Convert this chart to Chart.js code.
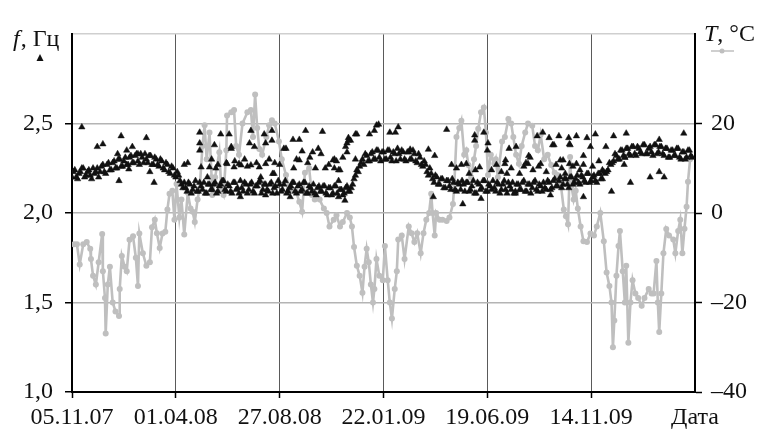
<!DOCTYPE html>
<html>
<head>
<meta charset="utf-8">
<script src="https://cdn.jsdelivr.net/npm/chart.js@4.4.1/dist/chart.umd.min.js"></script>
<style>
  html, body { margin: 0; padding: 0; background: #fff; }
  canvas { display: block; }
</style>
</head>
<body>
<canvas id="chart" width="762" height="444"></canvas>
<script>
const FONT = '"Liberation Serif", "Times New Roman", serif';

// x axis is in days counted from 05.11.07; labelled dates are 148 days apart
const X_TICK_STEP = 148;
const X_TICK_LABELS = ['05.11.07', '01.04.08', '27.08.08', '22.01.09', '19.06.09', '14.11.09', 'Дата'];

// temperature T, °C (right axis)
const tempDays = [
    3, 7, 11, 16, 21, 26, 27, 30, 34, 38,
    43, 44, 47, 48, 51, 54, 58, 62, 67, 68,
    71, 75, 78, 82, 87, 91, 94, 96, 101, 106,
    111, 114, 118, 121, 125, 129, 133, 136, 139, 143,
    146, 149, 153, 156, 160, 165, 169, 172, 175, 179,
    182, 186, 189, 192, 196, 199, 200, 204, 210, 213,
    216, 220, 221, 227, 231, 234, 238, 243, 250, 255,
    258, 261, 264, 267, 271, 277, 281, 285, 289, 295,
    299, 305, 309, 314, 319, 324, 328, 332, 338, 342,
    346, 353, 359, 363, 367, 373, 377, 382, 386, 392,
    396, 399, 402, 406, 410, 414, 417, 420, 423, 426,
    429, 431, 434, 438, 443, 446, 450, 453, 456, 460,
    463, 465, 470, 474, 480, 484, 488, 492, 497, 501,
    505, 509, 512, 514, 517, 519, 524, 528, 534, 538,
    543, 545, 548, 552, 555, 559, 562, 565, 569, 573,
    576, 579, 583, 587, 590, 593, 597, 602, 604, 607,
    613, 617, 622, 626, 629, 633, 637, 641, 646, 650,
    656, 660, 664, 668, 673, 678, 683, 688, 692, 697,
    701, 704, 707, 710, 712, 715, 718, 721, 725, 729,
    734, 739, 744, 748, 753, 758, 762, 766, 769, 771,
    773, 776, 779, 781, 785, 788, 790, 793, 796, 799,
    803, 807, 812, 816, 822, 826, 829, 833, 835, 837,
    840, 843, 847, 851, 857, 860, 864, 867, 870, 873,
    876, 878, 881,
];
const tempValues = [
    -7, -7, -11.5, -7, -6.5, -8, -10.3, -14, -16, -11,
    -4.7, -13, -19, -26.9, -16, -12, -20, -22, -23, -17,
    -9.6, -12, -13, -6, -5.2, -10, -16.3, -4.6, -9, -11.8,
    -11, -3.2, -1.5, -4.5, -7.8, -4.6, -4.2, 0.8, 4.3, 5,
    -1.5, 6.5, -1, 3, -4.8, 4.5, 1, 0.3, -2, 3,
    5.5, 15, 19.6, 12, 18, 8, 4, 8, 13.6, 5,
    4, 14, 21.8, 22.5, 23, 15, 13, 20, 22.5, 23,
    17, 26.5, 19, 14.3, 13, 17, 19.6, 20.7, 20, 16,
    12, 8.5, 5.5, 5.2, 5, 2.5, 0.3, 9, 10, 4,
    3, 3, 1, 0, -3, -1.5, -0.5, -3, -2, 0,
    -1, -3, -7.6, -11.8, -14, -17.8, -12, -8, -11, -16,
    -20, -17, -10.3, -14, -15, -7.4, -15, -20, -23.6, -17,
    -13, -5.9, -5, -10.3, -3, -4.5, -6.5, -4.5, -9, -4.5,
    -1.5, 0, 4.3, 0, -5, 0, -1.5, -1.5, -1.8, -1,
    2, 6.6, 17, 19, 20.6, 13, 14, 10.7, 8, 12,
    15, 18.8, 22.5, 23.6, 18, 8.5, 13, 11, 12, 8,
    16, 17, 21, 20, 17, 13, 11, 15, 18, 20,
    19.5, 15, 14, 17.5, 12, 13, 10.7, 9, 8.5, 6,
    0.8, -0.7, -2.5, 12.5, 6, 3, 5, 1, -3, -6.3,
    -6.5, -4.6, -5, -3, 0, -6.3, -13.3, -16.3, -20, -30,
    -24, -14, -7.4, -4, -13, -20, -11.8, -29, -20, -15,
    -18, -19, -20.7, -19, -17, -18, -18, -10.7, -20, -26.6,
    -18, -9, -3.6, -5, -5.9, -9, -4, -1.5, -9, -3.5,
    1.4, 7, 12,
];

// frequency f, Hz (left axis): the dense band, read twice on an interleaved
// 4-day grid (freqBand from day 0, freqBandAlt from day 2)
const FREQ_BAND_STEP = 4;
const freqBand = [
    2.20, 2.24, 2.19, 2.23, 2.25, 2.21, 2.24, 2.19, 2.22, 2.25,
    2.23, 2.27, 2.22, 2.28, 2.24, 2.29, 2.25, 2.30, 2.26, 2.31,
    2.27, 2.32, 2.28, 2.33, 2.27, 2.31, 2.33, 2.28, 2.32, 2.27,
    2.30, 2.26, 2.29, 2.24, 2.27, 2.22, 2.25, 2.20, 2.21, 2.16,
    2.17, 2.12, 2.16, 2.13, 2.18, 2.12, 2.15, 2.17, 2.11, 2.16,
    2.13, 2.17, 2.12, 2.16, 2.18, 2.12, 2.15, 2.11, 2.17, 2.14,
    2.18, 2.12, 2.16, 2.13, 2.17, 2.11, 2.15, 2.18, 2.13, 2.16,
    2.12, 2.17, 2.14, 2.11, 2.16, 2.13, 2.18, 2.12, 2.15, 2.17,
    2.11, 2.16, 2.13, 2.17, 2.11, 2.14, 2.16, 2.10, 2.15, 2.12,
    2.15, 2.10, 2.14, 2.11, 2.15, 2.09, 2.13, 2.11, 2.15, 2.12,
    2.16, 2.21, 2.23, 2.28, 2.27, 2.32, 2.29, 2.34, 2.30, 2.35,
    2.29, 2.34, 2.30, 2.35, 2.29, 2.33, 2.36, 2.30, 2.34, 2.29,
    2.34, 2.30, 2.33, 2.28, 2.31, 2.26, 2.27, 2.21, 2.22, 2.17,
    2.20, 2.16, 2.19, 2.14, 2.18, 2.13, 2.17, 2.12, 2.16, 2.18,
    2.12, 2.17, 2.13, 2.18, 2.11, 2.16, 2.14, 2.18, 2.12, 2.15,
    2.18, 2.12, 2.16, 2.13, 2.18, 2.11, 2.15, 2.17, 2.12, 2.16,
    2.13, 2.18, 2.12, 2.16, 2.14, 2.18, 2.12, 2.15, 2.17, 2.13,
    2.17, 2.14, 2.19, 2.15, 2.20, 2.16, 2.19, 2.14, 2.20, 2.17,
    2.21, 2.16, 2.20, 2.17, 2.22, 2.18, 2.21, 2.17, 2.22, 2.19,
    2.22, 2.24, 2.27, 2.29, 2.32, 2.30, 2.35, 2.31, 2.36, 2.32,
    2.37, 2.32, 2.36, 2.33, 2.38, 2.33, 2.37, 2.32, 2.38, 2.34,
    2.37, 2.32, 2.36, 2.31, 2.35, 2.32, 2.36, 2.30, 2.34, 2.31,
    2.35, 2.31,
];
const FREQ_BAND_ALT_START = 2;
const freqBandAlt = [
    2.23, 2.20, 2.22, 2.25, 2.20, 2.23, 2.21, 2.25, 2.23, 2.20,
    2.26, 2.23, 2.27, 2.24, 2.28, 2.25, 2.30, 2.26, 2.29, 2.27,
    2.31, 2.28, 2.32, 2.29, 2.33, 2.28, 2.30, 2.32, 2.27, 2.31,
    2.27, 2.30, 2.25, 2.28, 2.23, 2.26, 2.21, 2.23, 2.18, 2.14,
    2.14, 2.17, 2.11, 2.15, 2.12, 2.17, 2.13, 2.11, 2.16, 2.13,
    2.16, 2.11, 2.15, 2.18, 2.13, 2.16, 2.12, 2.17, 2.13, 2.11,
    2.14, 2.17, 2.11, 2.16, 2.12, 2.15, 2.17, 2.11, 2.16, 2.13,
    2.16, 2.11, 2.15, 2.18, 2.12, 2.16, 2.11, 2.14, 2.17, 2.12,
    2.15, 2.12, 2.17, 2.11, 2.15, 2.12, 2.11, 2.14, 2.12, 2.15,
    2.11, 2.14, 2.10, 2.15, 2.11, 2.13, 2.10, 2.14, 2.12, 2.14,
    2.19, 2.24, 2.26, 2.30, 2.33, 2.29, 2.33, 2.30, 2.35, 2.31,
    2.34, 2.30, 2.35, 2.31, 2.34, 2.29, 2.33, 2.35, 2.30, 2.34,
    2.30, 2.35, 2.29, 2.33, 2.27, 2.29, 2.23, 2.25, 2.19, 2.21,
    2.16, 2.19, 2.14, 2.18, 2.15, 2.19, 2.13, 2.17, 2.13, 2.16,
    2.17, 2.12, 2.15, 2.11, 2.17, 2.13, 2.18, 2.12, 2.16, 2.13,
    2.14, 2.17, 2.11, 2.16, 2.13, 2.17, 2.13, 2.11, 2.16, 2.13,
    2.17, 2.12, 2.16, 2.11, 2.17, 2.13, 2.16, 2.12, 2.14, 2.18,
    2.13, 2.18, 2.15, 2.18, 2.14, 2.19, 2.16, 2.20, 2.16, 2.19,
    2.17, 2.21, 2.18, 2.22, 2.17, 2.20, 2.18, 2.22, 2.19, 2.23,
    2.23, 2.28, 2.28, 2.33, 2.30, 2.35, 2.32, 2.36, 2.33, 2.37,
    2.33, 2.37, 2.34, 2.38, 2.33, 2.36, 2.34, 2.38, 2.33, 2.37,
    2.33, 2.36, 2.31, 2.35, 2.32, 2.36, 2.31, 2.34, 2.30, 2.35,
    2.32,
];

// frequency readings scattered away from the band
const freqScatterDays = [
    14, 36, 44, 65, 67, 70, 78, 81, 86, 94,
    106, 111, 117, 160, 165, 182, 182, 182, 184, 193,
    196, 203, 205, 212, 220, 221, 224, 227, 227, 231,
    238, 240, 241, 246, 253, 255, 255, 260, 267, 269,
    274, 276, 276, 276, 281, 285, 285, 286, 288, 302,
    305, 311, 315, 316, 324, 324, 328, 333, 339, 343,
    347, 351, 357, 361, 372, 374, 374, 380, 380, 382,
    389, 390, 392, 392, 394, 394, 397, 404, 404, 406,
    424, 431, 434, 437, 453, 461, 465, 482, 508, 515,
    517, 534, 555, 557, 562, 574, 574, 581, 583, 587,
    592, 593, 617, 618, 620, 623, 632, 633, 644, 650,
    651, 653, 663, 668, 671, 680, 682, 685, 687, 694,
    696, 700, 703, 708, 709, 709, 710, 719, 719, 729,
    729, 729, 734, 739, 746, 761, 769, 772, 787, 788,
    790, 796, 824, 837, 837, 844, 872, 598, 605, 612,
    626, 638, 647, 657, 665, 676, 690, 698, 714, 724,
    742, 751, 756, 575, 566, 548, 541, 199, 208, 263,
    232, 250, 289, 296, 320, 336, 355, 366, 377, 386,
];
const freqScatterValues = [
    2.48, 2.37, 2.385, 2.33, 2.18, 2.43, 2.35, 2.245, 2.37, 2.33,
    2.42, 2.23, 2.17, 2.27, 2.28, 2.45, 2.39, 2.35, 2.256, 2.20,
    2.256, 2.38, 2.25, 2.44, 2.28, 2.275, 2.44, 2.37, 2.36, 2.256,
    2.275, 2.09, 2.267, 2.30, 2.39, 2.46, 2.267, 2.37, 2.256, 2.20,
    2.44, 2.39, 2.275, 2.10, 2.30, 2.46, 2.405, 2.22, 2.22, 2.36,
    2.36, 2.09, 2.41, 2.25, 2.41, 2.295, 2.345, 2.46, 2.31, 2.34,
    2.25, 2.36, 2.455, 2.25, 2.295, 2.30, 2.25, 2.24, 2.18, 2.24,
    2.07, 2.37, 2.39, 2.34, 2.42, 2.405, 2.405, 2.44, 2.30, 2.44,
    2.44, 2.46, 2.49, 2.495, 2.45, 2.45, 2.48, 2.355, 2.355, 2.09,
    2.32, 2.466, 2.27, 2.05, 2.275, 2.435, 2.405, 2.256, 2.08, 2.45,
    2.35, 2.39, 2.275, 2.295, 2.22, 2.36, 2.11, 2.37, 2.26, 2.275,
    2.32, 2.31, 2.43, 2.275, 2.45, 2.42, 2.10, 2.38, 2.38, 2.43,
    2.295, 2.295, 2.22, 2.42, 2.385, 2.275, 2.38, 2.43, 2.275, 2.27,
    2.09, 2.32, 2.42, 2.37, 2.44, 2.37, 2.12, 2.43, 2.27, 2.31,
    2.445, 2.17, 2.20, 2.23, 2.41, 2.20, 2.445, 2.24, 2.27, 2.23,
    2.25, 2.22, 2.28, 2.24, 2.26, 2.23, 2.27, 2.25, 2.26, 2.24,
    2.26, 2.29, 2.24, 2.24, 2.22, 2.25, 2.27, 2.30, 2.27, 2.28,
    2.29, 2.26, 2.28, 2.27, 2.30, 2.28, 2.33, 2.27, 2.29, 2.31,
];

const GRAY = '#bfbfbf';
const CLEAR = 'rgba(0,0,0,0)';

const freqPoints = freqBand.map((f, i) => ({ x: i * FREQ_BAND_STEP, y: f }))
    .concat(freqBandAlt.map((f, i) => ({ x: FREQ_BAND_ALT_START + i * FREQ_BAND_STEP, y: f })))
    .concat(freqScatterDays.map((d, i) => ({ x: d, y: freqScatterValues[i] })));
const tempPoints = tempDays.map((d, i) => ({ x: d, y: tempValues[i] }));

function formatComma(value) {
    return value.toFixed(1).replace('.', ',');
}

function formatSigned(value) {
    return value < 0 ? '\u2013' + Math.abs(value) : String(value);
}

// axis titles with their little series markers
const axisTitles = {
    id: 'axisTitles',
    afterDraw(chart) {
        const ctx = chart.ctx;
        ctx.save();
        ctx.fillStyle = '#111';
        ctx.textBaseline = 'alphabetic';

        ctx.font = `italic 24px ${FONT}`;
        ctx.fillText('f', 13, 46);
        let w = ctx.measureText('f').width;
        ctx.font = `24px ${FONT}`;
        ctx.fillText(', Гц', 13 + w + 1, 46);

        ctx.beginPath();
        ctx.moveTo(40, 54);
        ctx.lineTo(43.5, 61);
        ctx.lineTo(36.5, 61);
        ctx.closePath();
        ctx.fill();

        ctx.font = `italic 24px ${FONT}`;
        ctx.fillText('T', 704, 41);
        w = ctx.measureText('T').width;
        ctx.font = `24px ${FONT}`;
        ctx.fillText(', °C', 704 + w, 41);

        ctx.strokeStyle = GRAY;
        ctx.lineWidth = 1.5;
        ctx.beginPath();
        ctx.moveTo(711, 51);
        ctx.lineTo(734, 51);
        ctx.stroke();
        ctx.fillStyle = GRAY;
        ctx.beginPath();
        ctx.arc(722, 51, 2.5, 0, Math.PI * 2);
        ctx.fill();
        ctx.restore();
    },
};

new Chart(document.getElementById('chart'), {
    type: 'scatter',
    data: {
        datasets: [
            {
                label: 'f',
                data: freqPoints,
                yAxisID: 'y',
                pointStyle: 'triangle',
                pointRadius: 3.7,
                backgroundColor: '#111',
                borderColor: '#111',
                borderWidth: 0.5,
            },
            {
                label: 'T',
                data: tempPoints,
                yAxisID: 'y1',
                showLine: true,
                borderColor: GRAY,
                borderWidth: 2.6,
                pointRadius: 3,
                pointBackgroundColor: GRAY,
                pointBorderWidth: 0,
            },
        ],
    },
    options: {
        responsive: false,
        animation: false,
        devicePixelRatio: 1,
        layout: { padding: { top: 34, left: 0, right: 0, bottom: 0 } },
        plugins: {
            legend: { display: false },
            tooltip: { enabled: false },
        },
        scales: {
            x: {
                type: 'linear',
                min: 0,
                max: X_TICK_STEP * 6,
                ticks: {
                    stepSize: X_TICK_STEP,
                    autoSkip: false,
                    maxRotation: 0,
                    color: '#111',
                    padding: 5,
                    font: { family: FONT, size: 24 },
                    callback: (value) => X_TICK_LABELS[Math.round(value / X_TICK_STEP)],
                },
                grid: {
                    color: (c) => (c.tick && (c.tick.value === 0 || c.tick.value === X_TICK_STEP * 6) ? CLEAR : '#5a5a5a'),
                    lineWidth: 1,
                    tickLength: 6,
                    tickWidth: 1.5,
                    tickColor: (c) => (c.tick && c.tick.value === X_TICK_STEP * 6 ? CLEAR : '#000'),
                },
                border: { color: '#000', width: 2 },
                afterFit: (scale) => { scale.height = 52; },
            },
            y: {
                position: 'left',
                min: 1,
                max: 3,
                ticks: {
                    stepSize: 0.5,
                    color: '#111',
                    padding: 12,
                    font: { family: FONT, size: 24 },
                    callback: (value) => (value === 3 ? '' : formatComma(value)),
                },
                grid: {
                    color: (c) => {
                        const v = c.tick && c.tick.value;
                        if (v === 1) return CLEAR;
                        if (v === 3) return '#cfcfcf';
                        return '#b4b4b4';
                    },
                    lineWidth: 1.5,
                    tickLength: 7,
                    tickWidth: 1.5,
                    tickColor: (c) => (c.tick && c.tick.value === 3 ? CLEAR : '#000'),
                },
                border: { color: '#000', width: 2 },
                afterFit: (scale) => { scale.width = 72; },
            },
            y1: {
                position: 'right',
                min: -40,
                max: 40,
                ticks: {
                    stepSize: 20,
                    color: '#111',
                    padding: 9,
                    font: { family: FONT, size: 24 },
                    callback: (value) => (value === 40 ? '' : formatSigned(value)),
                },
                grid: {
                    drawOnChartArea: false,
                    tickLength: 7,
                    tickWidth: 1.5,
                    tickColor: (c) => (c.tick && c.tick.value === 40 ? CLEAR : '#000'),
                },
                border: { color: '#000', width: 2 },
                afterFit: (scale) => { scale.width = 67; },
            },
        },
    },
    plugins: [axisTitles],
});
</script>
</body>
</html>
